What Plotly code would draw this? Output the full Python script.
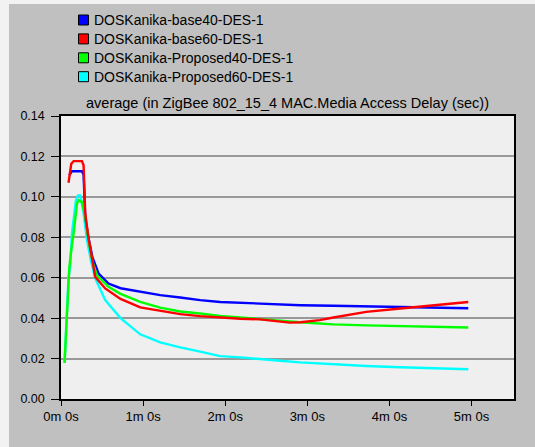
import plotly.graph_objects as go

# ---- data (time in seconds, values in seconds) ----
series_names = [
    "DOSKanika-base40-DES-1",
    "DOSKanika-base60-DES-1",
    "DOSKanika-Proposed40-DES-1",
    "DOSKanika-Proposed60-DES-1",
]
series_colors = ["#0000ff", "#ff0000", "#00ff00", "#00ffff"]

base40_t = [6, 8, 12, 15.3, 16.5, 17.7, 20, 23, 27.5, 34.7, 43.5, 57.9, 72.5, 87.1,
            101.7, 116.3, 130.9, 145.5, 160, 175, 199, 223, 248, 272, 297.6]
base40_v = [0.1106, 0.1127, 0.1127, 0.1127, 0.111, 0.090, 0.080, 0.070, 0.062, 0.0571,
            0.0548, 0.053, 0.0514, 0.0502, 0.0489, 0.048, 0.0476, 0.0472, 0.0468, 0.0464,
            0.0461, 0.0459, 0.0456, 0.0453, 0.0449]

base60_t = [5.5, 7.5, 9.2, 15.3, 16.5, 17.7, 20, 23, 25, 32.3, 43.5, 57.9, 72.5, 87.1,
            101.7, 116.3, 130.9, 145.5, 160.1, 167, 175, 189, 199, 211, 223, 248, 272, 297.6]
base60_v = [0.107, 0.1164, 0.1177, 0.1177, 0.1156, 0.092, 0.080, 0.068, 0.0604, 0.0547,
            0.0495, 0.0453, 0.0436, 0.042, 0.041, 0.0403, 0.0397, 0.0394, 0.0385, 0.0378,
            0.038, 0.039, 0.0403, 0.0418, 0.0431, 0.0448, 0.0464, 0.048]

prop40_t = [2.6, 4.4, 6.1, 7.5, 9.2, 11.7, 12.8, 15.3, 17.7, 20.1, 23, 26.3, 34.7, 43.5,
            57.9, 72.5, 87.1, 101.7, 116.3, 130.9, 145.5, 160.1, 174.7, 199, 223, 248, 272, 297.6]
prop40_v = [0.0179, 0.0406, 0.0653, 0.0736, 0.0818, 0.0966, 0.0983, 0.0974, 0.090, 0.0785,
            0.068, 0.0612, 0.0555, 0.052, 0.048, 0.0452, 0.0433, 0.0423, 0.0411, 0.0403,
            0.0394, 0.0387, 0.038, 0.0369, 0.0364, 0.036, 0.0357, 0.0354]

prop60_t = [2.6, 4.0, 5.5, 6.8, 8, 10.9, 12.4, 14.1, 16.5, 19, 22, 25.1, 32.3, 43.5, 57.9,
            72.5, 87.1, 101.7, 116.3, 130.9, 145.5, 160.1, 174.7, 199, 223, 248, 272, 297.6]
prop60_v = [0.0179, 0.042, 0.060, 0.0665, 0.0818, 0.0983, 0.1007, 0.1007, 0.092, 0.0785,
            0.068, 0.0596, 0.0489, 0.040, 0.032, 0.028, 0.0255, 0.0234, 0.0212, 0.0206,
            0.0196, 0.0189, 0.0181, 0.0171, 0.0163, 0.0157, 0.0151, 0.0147]

x_tickvals = [0, 60, 120, 180, 240, 300]
x_ticktext = ["0m 0s", "1m 0s", "2m 0s", "3m 0s", "4m 0s", "5m 0s"]
y_tickvals = [0.00, 0.02, 0.04, 0.06, 0.08, 0.10, 0.12, 0.14]
title_text = "average (in ZigBee 802_15_4 MAC.Media Access Delay (sec))"

# ---- layout geometry (pixels) ----
W, H = 535, 447
L, R, T, B = 61, 21, 116, 48
PW, PH = W - L - R, H - T - B

def px(xp):
    return (xp - L) / PW

def py(yp):
    return (H - B - yp) / PH

FONT = "Liberation Sans, Arial, sans-serif"

fig = go.Figure()
data = {
    0: (base40_t, base40_v),
    1: (base60_t, base60_v),
    2: (prop40_t, prop40_v),
    3: (prop60_t, prop60_v),
}
# draw order: cyan, blue, green, red
for i in [3, 0, 2, 1]:
    t, v = data[i]
    fig.add_trace(go.Scatter(x=t, y=v, mode="lines", name=series_names[i],
                             line=dict(color=series_colors[i], width=2.4),
                             showlegend=False, hoverinfo="skip"))

shapes = []
annotations = []
# white outer strips (top and left)
shapes.append(dict(type="rect", xref="paper", yref="paper", x0=px(0), x1=px(W),
                   y0=py(4), y1=py(0), fillcolor="#f2f2f2", line=dict(width=0), layer="above"))
shapes.append(dict(type="rect", xref="paper", yref="paper", x0=px(0), x1=px(9),
                   y0=py(H), y1=py(0), fillcolor="#f2f2f2", line=dict(width=0), layer="above"))

# manual legend
for k, name in enumerate(series_names):
    cy = 20 + k * 18.9
    shapes.append(dict(type="rect", xref="paper", yref="paper",
                       x0=px(78.5), x1=px(88.5), y0=py(cy + 5), y1=py(cy - 5),
                       fillcolor=series_colors[k], line=dict(color="black", width=1)))
    annotations.append(dict(text=name, xref="paper", yref="paper", x=px(92), y=py(cy),
                            xanchor="left", yanchor="middle", showarrow=False,
                            font=dict(family=FONT, size=14, color="black")))

annotations.append(dict(text=title_text, xref="paper", yref="paper", x=0.5, y=py(103),
                        xanchor="center", yanchor="middle", showarrow=False,
                        font=dict(family=FONT, size=14.5, color="black")))

fig.update_layout(
    width=W, height=H,
    margin=dict(l=L, r=R, t=T, b=B, pad=0),
    paper_bgcolor="#c0c0c0",
    plot_bgcolor="#efefef",
    font=dict(family=FONT, size=12.5, color="black"),
    shapes=shapes,
    annotations=annotations,
    showlegend=False,
    hovermode=False,
)
fig.update_xaxes(range=[0, 331], tickvals=x_tickvals, ticktext=x_ticktext,
                 showgrid=False, zeroline=False, showline=True, linecolor="black",
                 linewidth=1.5, mirror=True, ticks="outside", ticklen=5,
                 tickcolor="black", tickwidth=1, tickfont=dict(size=13))
fig.update_yaxes(range=[0, 0.14], tickvals=y_tickvals, tickformat=".2f",
                 showgrid=True, gridcolor="#999999", gridwidth=1.5, zeroline=False,
                 showline=True, linecolor="black", linewidth=1.5, mirror=True,
                 ticks="outside", ticklen=8, tickcolor="black", tickwidth=1,
                 ticklabelstandoff=4, tickfont=dict(size=12.5))

fig.write_html("out.html", config={"displayModeBar": False},
               post_script="document.body.style.margin='0';document.body.style.padding='0';")
